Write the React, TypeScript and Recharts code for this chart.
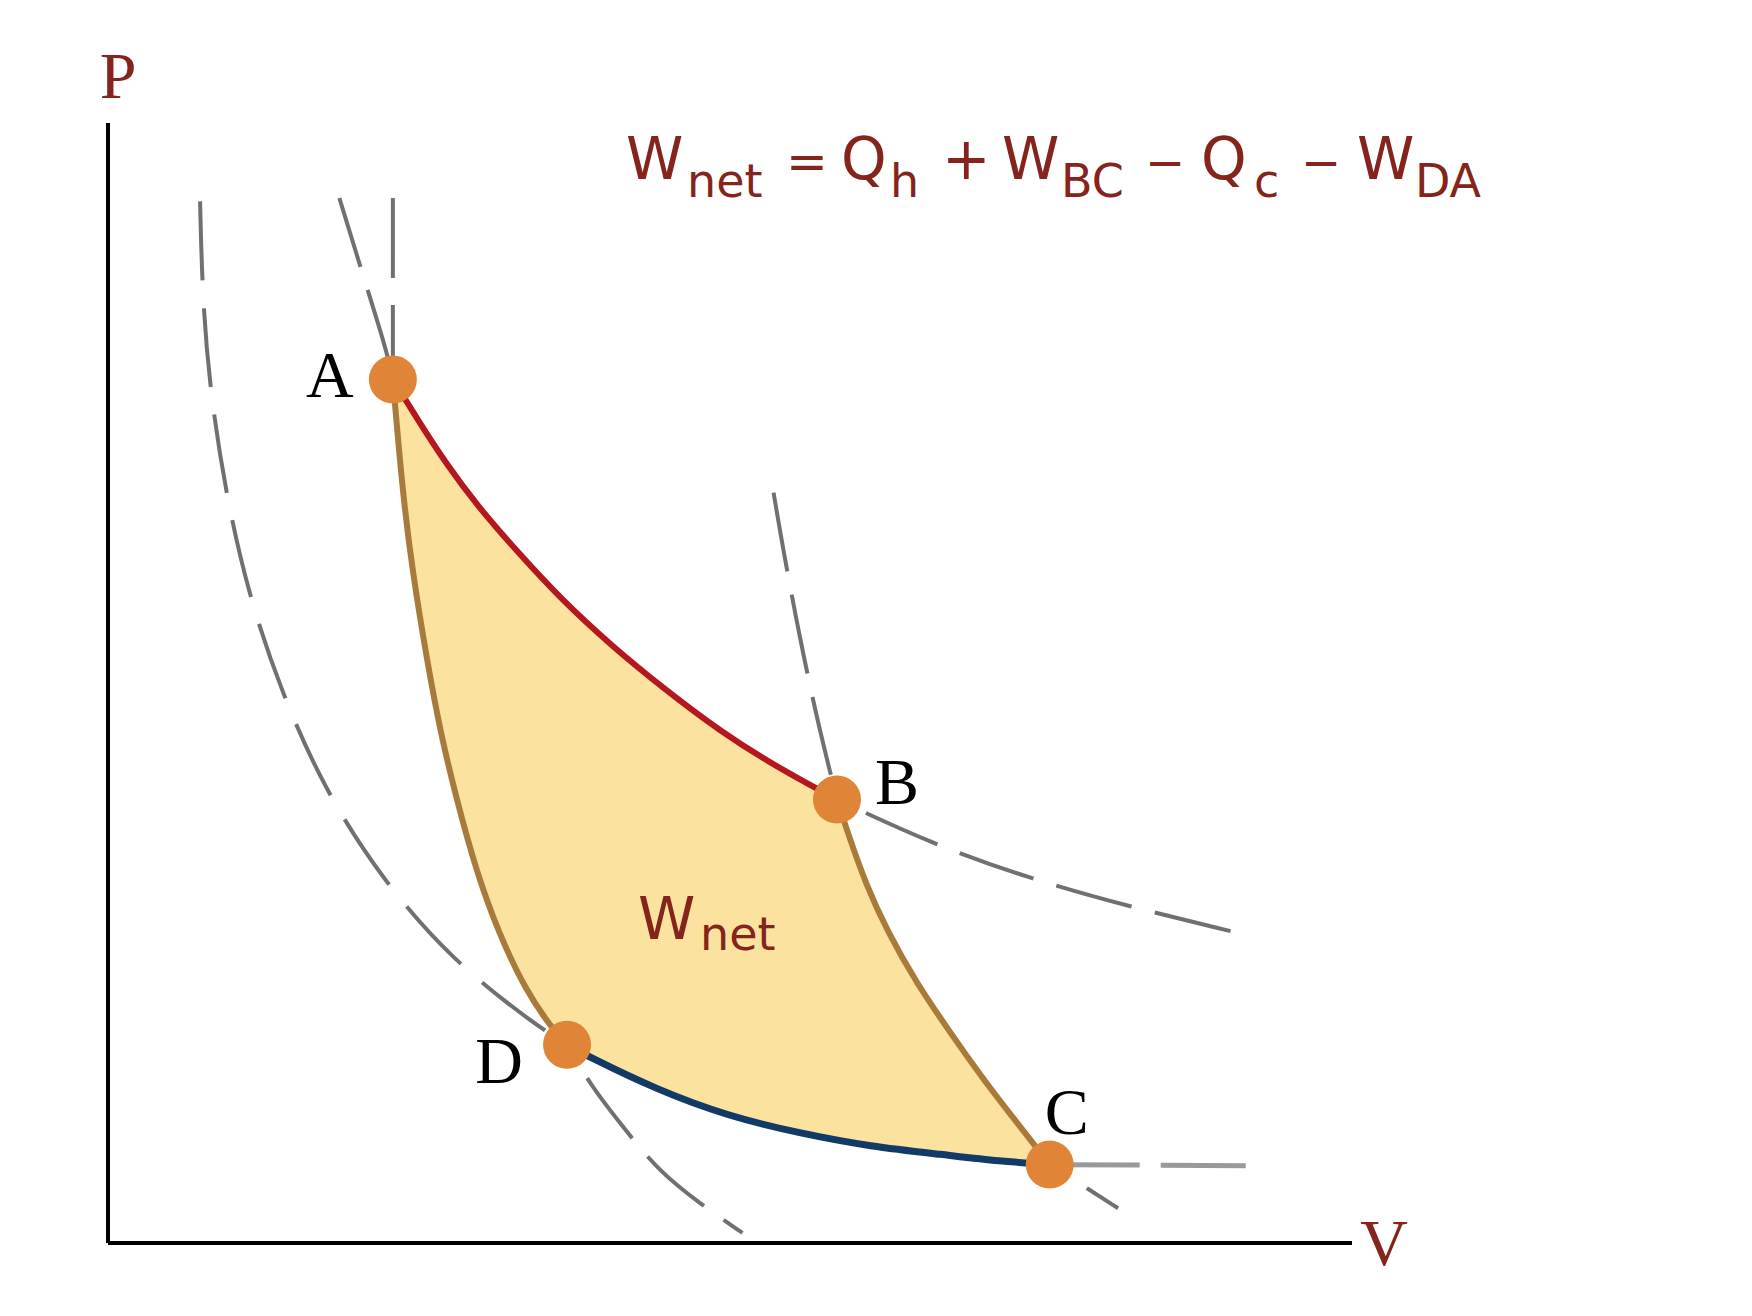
import { ComposedChart, XAxis, YAxis, Line, Area, Scatter, ReferenceLine } from "recharts";

type Pt = { v: number; p: number };

// state points of the cycle (V, P in arbitrary units, 0..100)
const cyclePoints = [
  { name: "A", v: 22.9, p: 77.1 },
  { name: "B", v: 58.6, p: 39.6 },
  { name: "C", v: 75.7, p: 7.0 },
  { name: "D", v: 36.9, p: 17.7 },
];

// hot isotherm A -> B
const hotIsotherm: Pt[] = [
  { v: 22.9, p: 77.1 }, { v: 24.9, p: 73.5 }, { v: 27.1, p: 69.7 },
  { v: 29.7, p: 65.8 }, { v: 33.0, p: 61.6 }, { v: 36.5, p: 57.4 },
  { v: 40.5, p: 53.3 }, { v: 44.8, p: 49.4 }, { v: 49.2, p: 45.7 },
  { v: 53.9, p: 42.4 }, { v: 58.6, p: 39.6 },
];
const hotIsothermUp: Pt[] = [{ v: 22.9, p: 93.3 }, { v: 22.9, p: 77.1 }];
const hotIsothermOut: Pt[] = [
  { v: 58.6, p: 39.6 }, { v: 66.1, p: 35.7 }, { v: 73.9, p: 32.6 },
  { v: 82.2, p: 30.0 }, { v: 90.4, p: 27.8 },
];

// adiabat B -> C
const adiabatBC: Pt[] = [
  { v: 58.6, p: 39.6 }, { v: 59.6, p: 36.2 }, { v: 60.9, p: 32.1 },
  { v: 62.7, p: 27.7 }, { v: 65.0, p: 23.2 }, { v: 67.7, p: 18.8 },
  { v: 70.3, p: 14.7 }, { v: 73.1, p: 10.7 }, { v: 75.7, p: 7.0 },
];
const adiabatBCUp: Pt[] = [
  { v: 53.5, p: 67.0 }, { v: 54.6, p: 59.8 }, { v: 56.6, p: 48.5 }, { v: 58.6, p: 39.6 },
];
const adiabatBCOut: Pt[] = [{ v: 75.7, p: 7.0 }, { v: 77.7, p: 5.6 }, { v: 81.2, p: 3.1 }];

// cold isotherm D -> C
const coldIsotherm: Pt[] = [
  { v: 36.9, p: 17.7 }, { v: 38.7, p: 16.6 }, { v: 44.1, p: 13.7 },
  { v: 49.9, p: 11.3 }, { v: 55.6, p: 9.8 }, { v: 61.3, p: 8.6 },
  { v: 67.1, p: 7.9 }, { v: 71.7, p: 7.3 }, { v: 75.7, p: 7.0 },
];
const coldIsothermUp: Pt[] = [
  { v: 7.4, p: 93.0 }, { v: 7.6, p: 84.2 }, { v: 8.2, p: 76.2 },
  { v: 9.4, p: 67.3 }, { v: 11.3, p: 57.8 }, { v: 14.0, p: 49.0 },
  { v: 17.4, p: 40.5 }, { v: 22.0, p: 32.5 }, { v: 27.7, p: 25.2 },
  { v: 34.2, p: 19.6 }, { v: 36.9, p: 17.7 },
];
const coldIsothermOut: Pt[] = [{ v: 75.7, p: 7.0 }, { v: 91.6, p: 6.9 }];

// adiabat D -> A
const adiabatDA: Pt[] = [
  { v: 22.9, p: 77.1 }, { v: 23.7, p: 66.8 }, { v: 24.5, p: 59.8 },
  { v: 25.6, p: 52.3 }, { v: 26.7, p: 45.7 }, { v: 28.0, p: 39.7 },
  { v: 29.6, p: 33.2 }, { v: 31.4, p: 27.7 }, { v: 33.5, p: 22.7 },
  { v: 35.6, p: 19.3 }, { v: 36.9, p: 17.7 },
];
const adiabatDAUp: Pt[] = [
  { v: 18.6, p: 93.3 }, { v: 20.3, p: 87.1 }, { v: 22.4, p: 79.7 }, { v: 22.9, p: 77.1 },
];
const adiabatDAOut: Pt[] = [
  { v: 36.9, p: 17.7 }, { v: 38.9, p: 13.9 }, { v: 41.6, p: 10.1 },
  { v: 44.2, p: 6.5 }, { v: 47.6, p: 3.5 }, { v: 51.0, p: 0.9 },
];

const RED_TEXT = "#84241c";
const FILL = "#fbe29f";
const GRAY = "#707070";

const labelOffset: Record<string, [number, number]> = {
  A: [-63, 18],
  B: [60, 5],
  C: [17, -31],
  D: [-68, 38],
};

const StatePoint = (props: any) => {
  const { cx, cy, payload } = props;
  if (cx == null || cy == null) return null;
  const [dx, dy] = labelOffset[payload.name] ?? [0, 0];
  return (
    <g>
      <circle cx={cx} cy={cy} r={24} fill="#e08437" />
      <text
        x={cx + dx}
        y={cy + dy}
        textAnchor="middle"
        fontFamily="Liberation Serif"
        fontSize={66}
        fill="#000"
      >
        {payload.name}
      </text>
    </g>
  );
};

const dashProps = {
  stroke: GRAY,
  strokeWidth: 4,
  dot: false,
  activeDot: false,
  isAnimationActive: false,
};

const solid = (color: string, w: number) => ({
  stroke: color,
  strokeWidth: w,
  dot: false,
  activeDot: false,
  isAnimationActive: false,
});

const areaProps = {
  dataKey: "p",
  type: "basis" as const,
  fillOpacity: 1,
  stroke: "none",
  shapeRendering: "crispEdges",
  isAnimationActive: false,
};

export default function App() {
  const main = { fontFamily: "DejaVu Sans", fontSize: 58, fill: RED_TEXT };
  const sub = { fontFamily: "DejaVu Sans", fontSize: 46, fill: RED_TEXT };
  return (
    <div style={{ position: "absolute", left: 0, top: 0, width: 1752, height: 1316, background: "#fff" }}>
      <ComposedChart
        width={1752}
        height={1316}
        margin={{ top: 123, right: 400, bottom: 73, left: 108 }}
      >
        <XAxis type="number" dataKey="v" domain={[0, 100]} allowDataOverflow hide />
        <YAxis type="number" dataKey="p" domain={[0, 100]} allowDataOverflow hide />

        {/* W_net region: fill under the upper boundary, then mask under the lower one */}
        <Area data={hotIsotherm} fill={FILL} baseValue={1} {...areaProps} />
        <Area data={adiabatBC} fill={FILL} baseValue={1} {...areaProps} />
        <Area data={adiabatDA} fill="#fff" baseValue={0.5} {...areaProps} />
        <Area data={coldIsotherm} fill="#fff" baseValue={0.5} {...areaProps} />

        {/* axes */}
        <ReferenceLine x={0} stroke="#000" strokeWidth={4} />
        <ReferenceLine y={0} stroke="#000" strokeWidth={4} />

        {/* dashed extensions */}
        <Line data={coldIsothermUp} dataKey="p" type="basis" strokeDasharray="79 28" {...dashProps} />
        <Line data={coldIsothermOut} dataKey="p" type="linear" strokeDasharray="85 21" strokeDashoffset={-5} {...dashProps} stroke="#999" strokeWidth={5} />
        <Line data={hotIsothermUp} dataKey="p" type="linear" strokeDasharray="80 27" {...dashProps} />
        <Line data={hotIsothermOut} dataKey="p" type="basis" strokeDasharray="78 24" strokeDashoffset={70} {...dashProps} />
        <Line data={adiabatDAUp} dataKey="p" type="basis" strokeDasharray="72 24" {...dashProps} />
        <Line data={adiabatDAOut} dataKey="p" type="basis" strokeDasharray="75 24" strokeDashoffset={60} {...dashProps} />
        <Line data={adiabatBCUp} dataKey="p" type="basis" strokeDasharray="80 24" {...dashProps} />
        <Line data={adiabatBCOut} dataKey="p" type="basis" strokeDasharray="80 24" strokeDashoffset={60} {...dashProps} />

        {/* cycle */}
        <Line data={hotIsotherm} dataKey="p" type="basis" {...solid("#b5171f", 6)} />
        <Line data={adiabatBC} dataKey="p" type="basis" {...solid("#a87b3b", 6)} />
        <Line data={coldIsotherm} dataKey="p" type="basis" {...solid("#123a66", 7)} />
        <Line data={adiabatDA} dataKey="p" type="basis" {...solid("#a87b3b", 6)} />

        <Scatter data={cyclePoints} dataKey="p" shape={(p: any) => <StatePoint {...p} />} isAnimationActive={false} />
      </ComposedChart>

      <svg
        width={1752}
        height={1316}
        style={{ position: "absolute", left: 0, top: 0, pointerEvents: "none" }}
      >
        <text x={118} y={98} textAnchor="middle" fontFamily="Liberation Serif" fontSize={66} fill={RED_TEXT}>P</text>
        <text x={1384} y={1265} textAnchor="middle" fontFamily="Liberation Serif" fontSize={66} fill={RED_TEXT}>V</text>

        {/* W_net = Q_h + W_BC − Q_c − W_DA */}
        <text x={626} y={179} {...main}>W</text>
        <text x={687} y={197} {...sub}>net</text>
        <text x={786} y={179} {...main} fontSize={50}>=</text>
        <text x={841} y={179} {...main}>Q</text>
        <text x={890} y={197} {...sub}>h</text>
        <text x={942} y={179} {...main}>+</text>
        <text x={1002} y={179} {...main}>W</text>
        <text x={1061} y={197} {...sub}>BC</text>
        <text x={1145} y={179} {...main} fontSize={48}>−</text>
        <text x={1201} y={179} {...main}>Q</text>
        <text x={1254} y={197} {...sub}>c</text>
        <text x={1301} y={179} {...main} fontSize={48}>−</text>
        <text x={1357} y={179} {...main}>W</text>
        <text x={1415} y={197} {...sub}>DA</text>

        <text x={638} y={939} {...main}>W</text>
        <text x={700} y={950} {...sub}>net</text>
      </svg>
    </div>
  );
}
